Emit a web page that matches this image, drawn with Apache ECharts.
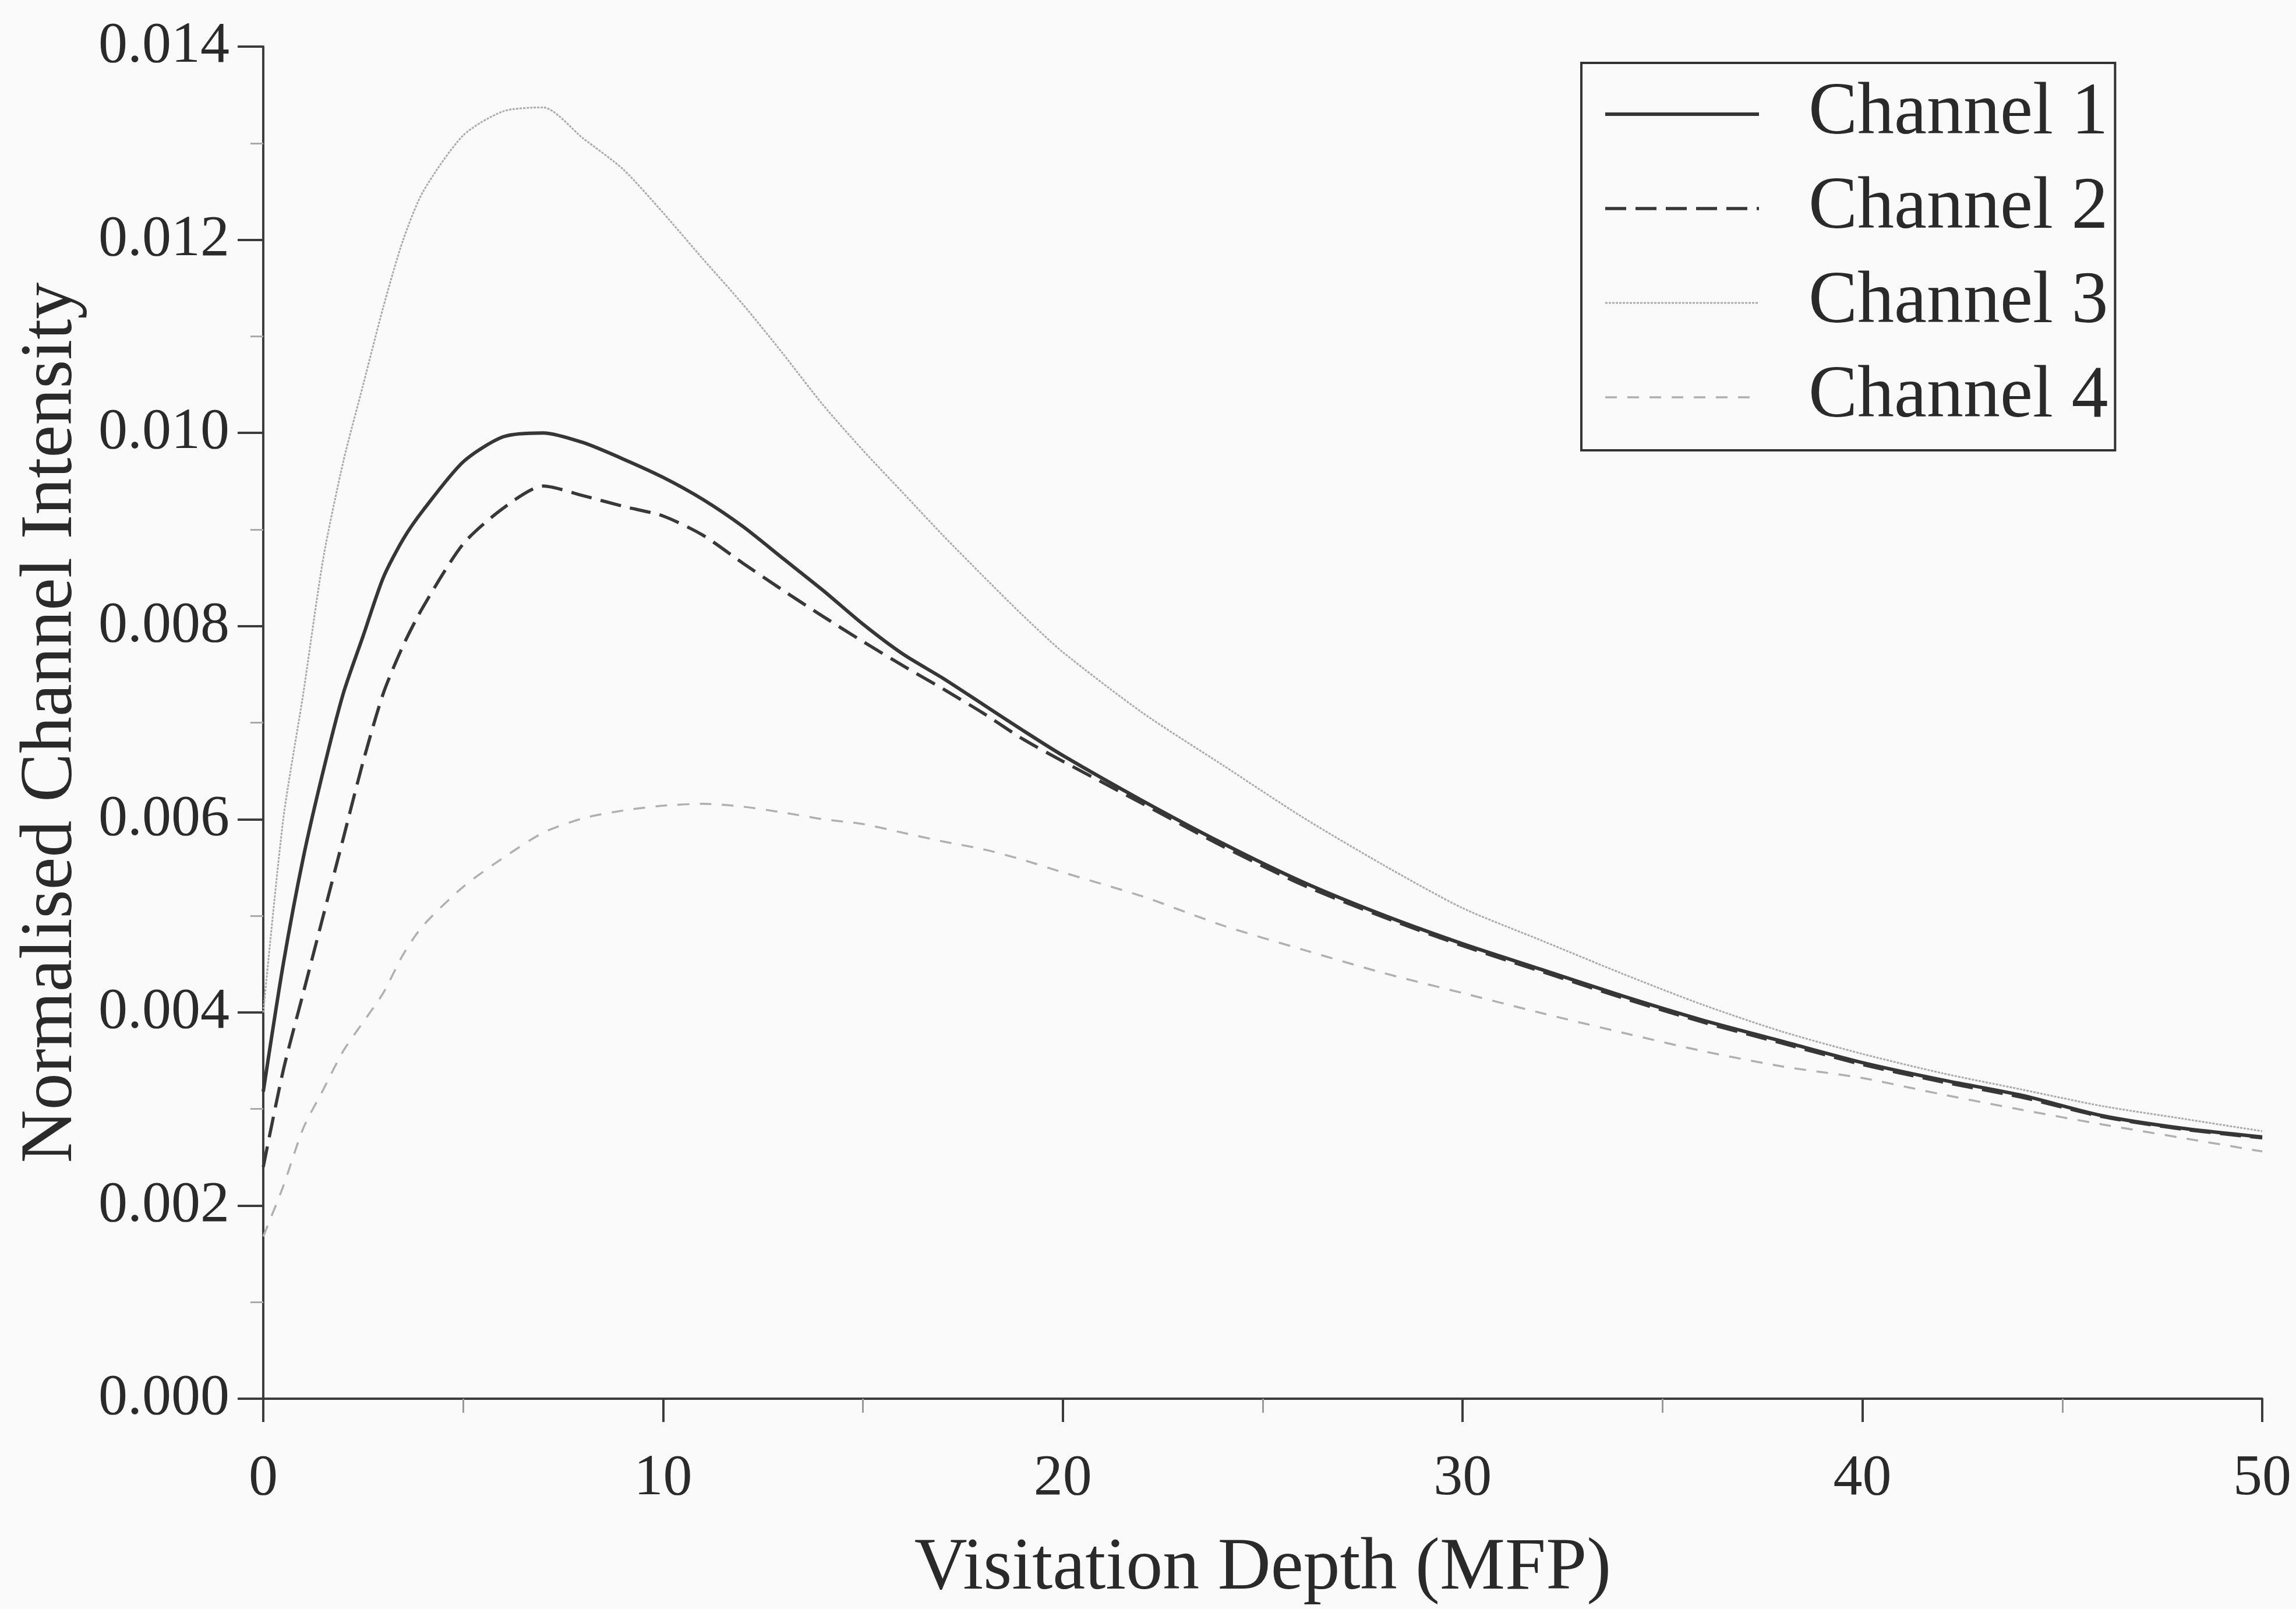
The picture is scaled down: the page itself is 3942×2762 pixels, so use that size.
<!DOCTYPE html>
<html>
<head>
<meta charset="utf-8">
<script src="https://cdn.jsdelivr.net/npm/echarts@6/dist/echarts.min.js"></script>
<style>
html,body{margin:0;padding:0;background:#fafafa;}
#chart{width:3942px;height:2762px;}
</style>
</head>
<body>
<div id="chart"></div>
<script>
// Visitation depth (MFP) sample positions
const depth = [0, 0.5, 1, 1.5, 2, 2.5, 3, 3.5, 4, 5, 6, 7, 8, 9, 10, 11, 12, 13, 14, 15, 16, 17, 18, 19, 20, 22, 24, 26, 28, 30, 32, 34, 36, 38, 40, 42, 44, 46, 48, 50];

const channel1 = [0.00318, 0.0045, 0.0056, 0.0065, 0.0073, 0.0079, 0.0085, 0.0089, 0.0092, 0.0097, 0.00996, 0.0100, 0.0099, 0.00973, 0.00954, 0.00931, 0.00903, 0.0087, 0.00837, 0.00802, 0.00771, 0.00746, 0.00719, 0.00692, 0.00666, 0.00619, 0.00575, 0.00535, 0.00501, 0.00471, 0.00444, 0.00417, 0.00392, 0.0037, 0.00348, 0.0033, 0.00314, 0.00293, 0.0028, 0.00271];

const channel2 = [0.00240, 0.0034, 0.0042, 0.0050, 0.0058, 0.0066, 0.0073, 0.0078, 0.0082, 0.00885, 0.00922, 0.00945, 0.00935, 0.00924, 0.00914, 0.00894, 0.00865, 0.00837, 0.0081, 0.00784, 0.00759, 0.00735, 0.0071, 0.00683, 0.0066, 0.00616, 0.00572, 0.00532, 0.00499, 0.00469, 0.00442, 0.00415, 0.0039, 0.00368, 0.00346, 0.00328, 0.00312, 0.00292, 0.00279, 0.0027];

const channel3 = [0.0040, 0.0060, 0.0073, 0.0087, 0.0097, 0.0105, 0.0113, 0.0120, 0.0125, 0.01308, 0.01333, 0.01337, 0.01305, 0.01273, 0.01228, 0.0118, 0.01133, 0.01082, 0.01029, 0.00982, 0.00938, 0.00894, 0.00852, 0.00811, 0.00773, 0.0071, 0.00656, 0.00602, 0.00553, 0.00508, 0.00474, 0.0044, 0.00408, 0.0038, 0.00357, 0.00337, 0.0032, 0.00303, 0.0029, 0.00277];

const channel4 = [0.00168, 0.0022, 0.0028, 0.0032, 0.0036, 0.0039, 0.0042, 0.0046, 0.0049, 0.0053, 0.0056, 0.00586, 0.00601, 0.00609, 0.00614, 0.00616, 0.00613, 0.00607, 0.0060, 0.00595, 0.00586, 0.00577, 0.00569, 0.00558, 0.00545, 0.0052, 0.0049, 0.00465, 0.00441, 0.0042, 0.00399, 0.00379, 0.0036, 0.00344, 0.00332, 0.00315, 0.00299, 0.00284, 0.0027, 0.00256];

const seriesNames = ['Channel 1', 'Channel 2', 'Channel 3', 'Channel 4'];
const xTicks = [0, 10, 20, 30, 40, 50];
const yTicks = [0.000, 0.002, 0.004, 0.006, 0.008, 0.010, 0.012, 0.014];
const xTitle = 'Visitation Depth (MFP)';
const yTitle = 'Normalised Channel Intensity';

const FONT = "'Liberation Serif', 'DejaVu Serif', serif";
const TXT = '#2a2a2a';
const AX = '#3c3c3c';

function pairs(ys) { return depth.map((x, i) => [x, ys[i]]); }

const chart = echarts.init(document.getElementById('chart'), null, {renderer: 'canvas'});

const styles = [
  {color: '#363636', width: 6, type: 'solid'},
  {color: '#383838', width: 5.5, type: [36, 16]},
  {color: '#ababab', width: 3, type: [4, 2]},
  {color: '#b0b0b0', width: 3.5, type: [20, 18]}
];
const allData = [channel1, channel2, channel3, channel4];

chart.setOption({
  animation: false,
  backgroundColor: '#fafafa',
  grid: {left: 452, right: 58, top: 80, bottom: 341, containLabel: false},
  xAxis: {
    type: 'value',
    min: xTicks[0], max: xTicks[xTicks.length - 1], interval: 10,
    name: xTitle, nameLocation: 'middle', nameGap: 230,
    nameTextStyle: {fontFamily: FONT, fontSize: 126, color: TXT},
    axisLine: {show: true, onZero: false, lineStyle: {color: AX, width: 4}},
    axisTick: {show: true, inside: false, length: 40, lineStyle: {color: AX, width: 4}},
    minorTick: {show: true, splitNumber: 2, length: 24, lineStyle: {color: '#999', width: 3}},
    axisLabel: {fontFamily: FONT, fontSize: 100, color: TXT, margin: 88,
      formatter: v => String(v)},
    splitLine: {show: false}
  },
  yAxis: {
    type: 'value',
    min: yTicks[0], max: yTicks[yTicks.length - 1], interval: 0.002,
    name: yTitle, nameLocation: 'middle', nameGap: 300,
    nameTextStyle: {fontFamily: FONT, fontSize: 126, color: TXT},
    axisLine: {show: true, onZero: false, lineStyle: {color: AX, width: 4}},
    axisTick: {show: true, inside: false, length: 44, lineStyle: {color: AX, width: 4}},
    minorTick: {show: true, splitNumber: 2, length: 22, lineStyle: {color: '#aaa', width: 3}},
    axisLabel: {fontFamily: FONT, fontSize: 100, color: TXT, margin: 58,
      formatter: v => v.toFixed(3)},
    splitLine: {show: false}
  },
  legend: {
    show: true,
    orient: 'vertical',
    left: 2715, top: 108,
    data: seriesNames,
    backgroundColor: '#fafafa',
    borderColor: '#333',
    borderWidth: 4,
    borderRadius: 0,
    padding: [25, 12, 28, 38],
    itemWidth: 264,
    itemHeight: 20,
    itemGap: 36,
    itemStyle: {color: 'rgba(0,0,0,0)', borderColor: 'rgba(0,0,0,0)', borderWidth: 0, opacity: 0},
    lineStyle: {width: 'inherit'},
    textStyle: {fontFamily: FONT, fontSize: 126, color: TXT, lineHeight: 126, padding: [0, 0, 0, 80]}
  },
  series: allData.map((d, i) => ({
    name: seriesNames[i],
    type: 'line',
    data: pairs(d),
    symbol: 'none',
    smooth: 0.25,
    lineStyle: styles[i],
    itemStyle: {color: styles[i].color},
    z: 4 - i
  }))
});
</script>
</body>
</html>
